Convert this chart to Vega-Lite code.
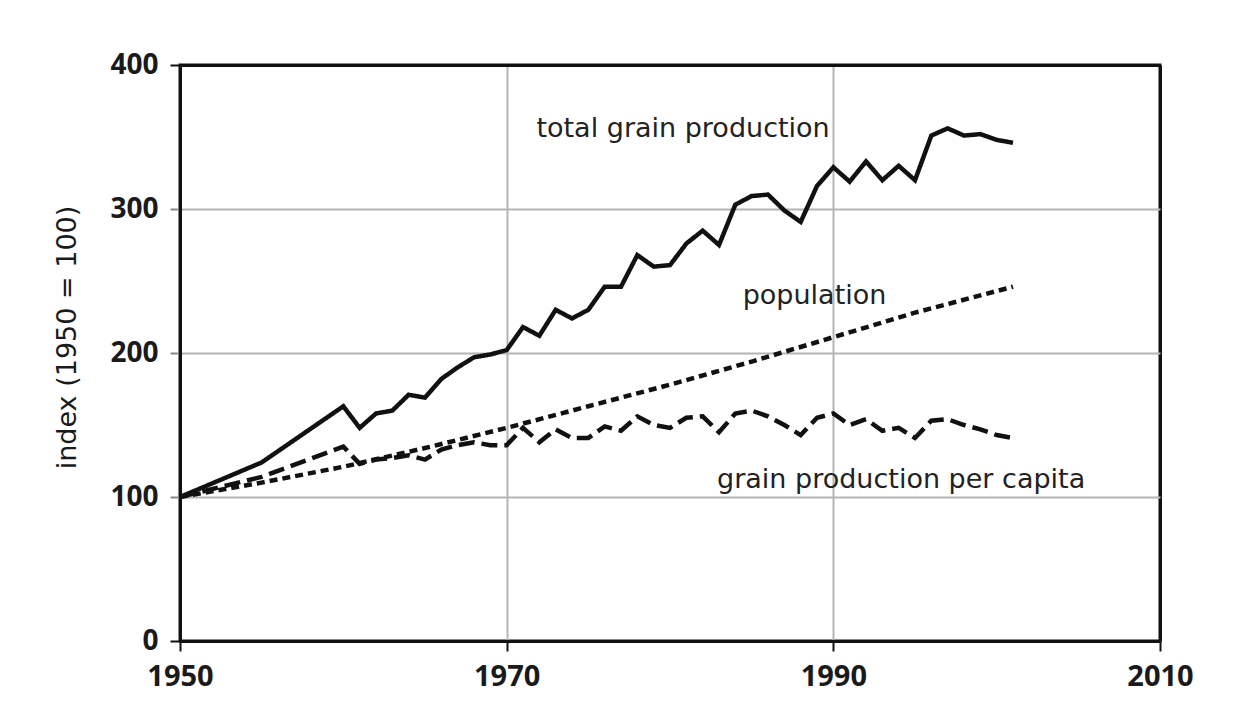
{
  "$schema": "https://vega.github.io/schema/vega-lite/v6.json",
  "autosize": {"type": "none"},
  "padding": {"left": 180, "top": 65, "right": 88, "bottom": 87},
  "width": 980,
  "height": 576,
  "background": "white",
  "config": {
    "view": {"stroke": "#111", "strokeWidth": 3},
    "font": "Open Sans"
  },
  "datasets": {
    "series": [
      {"year": 1950, "series": "total", "value": 100},
      {"year": 1955, "series": "total", "value": 124},
      {"year": 1960, "series": "total", "value": 163},
      {"year": 1961, "series": "total", "value": 148},
      {"year": 1962, "series": "total", "value": 158},
      {"year": 1963, "series": "total", "value": 160},
      {"year": 1964, "series": "total", "value": 171},
      {"year": 1965, "series": "total", "value": 169},
      {"year": 1966, "series": "total", "value": 182},
      {"year": 1967, "series": "total", "value": 190},
      {"year": 1968, "series": "total", "value": 197},
      {"year": 1969, "series": "total", "value": 199},
      {"year": 1970, "series": "total", "value": 202},
      {"year": 1971, "series": "total", "value": 218},
      {"year": 1972, "series": "total", "value": 212},
      {"year": 1973, "series": "total", "value": 230},
      {"year": 1974, "series": "total", "value": 224},
      {"year": 1975, "series": "total", "value": 230},
      {"year": 1976, "series": "total", "value": 246},
      {"year": 1977, "series": "total", "value": 246},
      {"year": 1978, "series": "total", "value": 268},
      {"year": 1979, "series": "total", "value": 260},
      {"year": 1980, "series": "total", "value": 261},
      {"year": 1981, "series": "total", "value": 276},
      {"year": 1982, "series": "total", "value": 285},
      {"year": 1983, "series": "total", "value": 275},
      {"year": 1984, "series": "total", "value": 303},
      {"year": 1985, "series": "total", "value": 309},
      {"year": 1986, "series": "total", "value": 310},
      {"year": 1987, "series": "total", "value": 299},
      {"year": 1988, "series": "total", "value": 291},
      {"year": 1989, "series": "total", "value": 316},
      {"year": 1990, "series": "total", "value": 329},
      {"year": 1991, "series": "total", "value": 319},
      {"year": 1992, "series": "total", "value": 333},
      {"year": 1993, "series": "total", "value": 320},
      {"year": 1994, "series": "total", "value": 330},
      {"year": 1995, "series": "total", "value": 320},
      {"year": 1996, "series": "total", "value": 351},
      {"year": 1997, "series": "total", "value": 356},
      {"year": 1998, "series": "total", "value": 351},
      {"year": 1999, "series": "total", "value": 352},
      {"year": 2000, "series": "total", "value": 348},
      {"year": 2001, "series": "total", "value": 346},
      {"year": 1950, "series": "percapita", "value": 100},
      {"year": 1955, "series": "percapita", "value": 114},
      {"year": 1960, "series": "percapita", "value": 135},
      {"year": 1961, "series": "percapita", "value": 123},
      {"year": 1962, "series": "percapita", "value": 126},
      {"year": 1963, "series": "percapita", "value": 127},
      {"year": 1964, "series": "percapita", "value": 129},
      {"year": 1965, "series": "percapita", "value": 126},
      {"year": 1966, "series": "percapita", "value": 133},
      {"year": 1967, "series": "percapita", "value": 136},
      {"year": 1968, "series": "percapita", "value": 138},
      {"year": 1969, "series": "percapita", "value": 136},
      {"year": 1970, "series": "percapita", "value": 136},
      {"year": 1971, "series": "percapita", "value": 148},
      {"year": 1972, "series": "percapita", "value": 138},
      {"year": 1973, "series": "percapita", "value": 147},
      {"year": 1974, "series": "percapita", "value": 141},
      {"year": 1975, "series": "percapita", "value": 141},
      {"year": 1976, "series": "percapita", "value": 149},
      {"year": 1977, "series": "percapita", "value": 146},
      {"year": 1978, "series": "percapita", "value": 156},
      {"year": 1979, "series": "percapita", "value": 150},
      {"year": 1980, "series": "percapita", "value": 148},
      {"year": 1981, "series": "percapita", "value": 155},
      {"year": 1982, "series": "percapita", "value": 156},
      {"year": 1983, "series": "percapita", "value": 145},
      {"year": 1984, "series": "percapita", "value": 158},
      {"year": 1985, "series": "percapita", "value": 160},
      {"year": 1986, "series": "percapita", "value": 156},
      {"year": 1987, "series": "percapita", "value": 150},
      {"year": 1988, "series": "percapita", "value": 143},
      {"year": 1989, "series": "percapita", "value": 155},
      {"year": 1990, "series": "percapita", "value": 158},
      {"year": 1991, "series": "percapita", "value": 150},
      {"year": 1992, "series": "percapita", "value": 154},
      {"year": 1993, "series": "percapita", "value": 146},
      {"year": 1994, "series": "percapita", "value": 148},
      {"year": 1995, "series": "percapita", "value": 141},
      {"year": 1996, "series": "percapita", "value": 153},
      {"year": 1997, "series": "percapita", "value": 154},
      {"year": 1998, "series": "percapita", "value": 150},
      {"year": 1999, "series": "percapita", "value": 147},
      {"year": 2000, "series": "percapita", "value": 143},
      {"year": 2001, "series": "percapita", "value": 141},
      {"year": 1950, "series": "population", "value": 100},
      {"year": 1955, "series": "population", "value": 110},
      {"year": 1960, "series": "population", "value": 121},
      {"year": 1965, "series": "population", "value": 134},
      {"year": 1970, "series": "population", "value": 148},
      {"year": 1975, "series": "population", "value": 163},
      {"year": 1980, "series": "population", "value": 178},
      {"year": 1985, "series": "population", "value": 194},
      {"year": 1990, "series": "population", "value": 211},
      {"year": 1995, "series": "population", "value": 228},
      {"year": 2001, "series": "population", "value": 246}
    ],
    "labels": [
      {"label": "total grain production", "year": 1980.8, "value": 350},
      {"label": "population", "year": 1988.85, "value": 234},
      {"label": "grain production per capita", "year": 1994.15, "value": 106}
    ]
  },
  "encoding": {
    "x": {
      "field": "year", "type": "quantitative",
      "scale": {"domain": [1950, 2010], "nice": false, "zero": false},
      "axis": {
        "title": null,
        "values": [1950, 1970, 1990, 2010],
        "format": "d",
        "grid": true,
        "gridColor": {"condition": {"test": "datum.value == 2010", "value": "#111"}, "value": "#b4b4b4"},
        "gridWidth": {"condition": {"test": "datum.value == 2010", "value": 3}, "value": 2},
        "domainColor": "#111",
        "domainWidth": 3,
        "tickColor": "#111",
        "tickWidth": 2,
        "tickSize": 10,
        "labelFont": "Open Sans",
        "labelFontWeight": "bold",
        "labelFontSize": 29,
        "labelColor": "#1a1a1a",
        "labelPadding": 11,
        "labelFlush": false
      }
    },
    "y": {
      "field": "value", "type": "quantitative",
      "scale": {"domain": [0, 400], "nice": false},
      "axis": {
        "title": "index (1950 = 100)",
        "titleFont": "DejaVu Sans",
        "titleFontWeight": "normal",
        "titleFontSize": 27,
        "titleColor": "#1a1a1a",
        "titleAngle": -90,
        "titleX": -113,
        "titleY": 272,
        "titleAlign": "center",
        "titleBaseline": "middle",
        "values": [0, 100, 200, 300, 400],
        "grid": true,
        "gridColor": {"condition": {"test": "datum.value == 400", "value": "#111"}, "value": "#b4b4b4"},
        "gridWidth": {"condition": {"test": "datum.value == 400", "value": 3}, "value": 2},
        "domainColor": "#111",
        "domainWidth": 3,
        "tickColor": {"condition": {"test": "datum.value == 0 || datum.value == 400", "value": "#111"}, "value": "#888"},
        "tickWidth": 2,
        "tickSize": 10,
        "labelFont": "Open Sans",
        "labelFontWeight": "bold",
        "labelFontSize": 28,
        "labelColor": "#1a1a1a",
        "labelPadding": 12,
        "labelFlush": false
      }
    }
  },
  "layer": [
    {
      "data": {"name": "series"},
      "mark": {"type": "line", "color": "#111", "strokeWidth": 4.5, "strokeCap": "butt", "strokeJoin": "miter"},
      "encoding": {
        "detail": {"field": "series"},
        "strokeDash": {
          "field": "series", "type": "nominal",
          "scale": {"domain": ["total", "percapita", "population"], "range": [[1, 0], [16, 7], [8, 5]]},
          "legend": null
        }
      }
    },
    {
      "data": {"name": "labels"},
      "mark": {"type": "text", "font": "DejaVu Sans", "fontSize": 27, "color": "#222", "align": "center", "baseline": "alphabetic"},
      "encoding": {"text": {"field": "label"}}
    }
  ]
}
